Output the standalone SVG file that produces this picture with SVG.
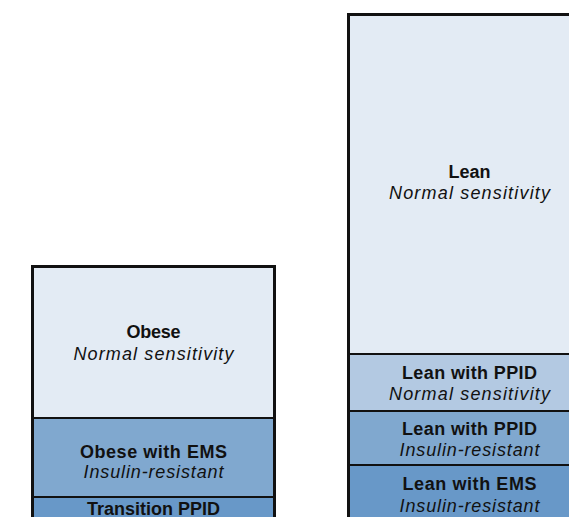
<svg xmlns="http://www.w3.org/2000/svg" width="569" height="517" viewBox="0 0 569 517">
<style>
.b{font-family:"Liberation Sans",Arial,sans-serif;font-size:18px;font-weight:bold;text-anchor:middle;fill:#111}
.i{font-family:"Liberation Sans",Arial,sans-serif;font-size:18px;font-style:italic;text-anchor:middle;fill:#111}
.c1{fill:#e3ebf4}
.c2{fill:#b3c9e2}
.c3{fill:#80a8cf}
.c4{fill:#6898c8}
.div{stroke:#111;stroke-width:2;fill:none}
.out{stroke:#111;stroke-width:3;fill:none}
</style>
<rect width="569" height="517" fill="#fff"/>
<g id="obese">
<rect class="c1" x="32" y="266" width="243" height="152"/>
<text class="b" x="153.5" y="338" textLength="54" lengthAdjust="spacing">Obese</text>
<text class="i" x="153.5" y="360" textLength="160" lengthAdjust="spacing">Normal sensitivity</text>
</g>
<g id="obese-ems">
<rect class="c3" x="32" y="418" width="243" height="79"/>
<text class="b" x="153.5" y="458" textLength="147" lengthAdjust="spacing">Obese with EMS</text>
<text class="i" x="153.5" y="478" textLength="140" lengthAdjust="spacing">Insulin-resistant</text>
</g>
<g id="transition-ppid">
<rect class="c4" x="32" y="497" width="243" height="30"/>
<text class="b" x="153.5" y="515" textLength="133" lengthAdjust="spacing">Transition PPID</text>
</g>
<g id="lean">
<rect class="c1" x="348" y="14" width="243" height="340"/>
<text class="b" x="469.5" y="178" textLength="42" lengthAdjust="spacing">Lean</text>
<text class="i" x="469.5" y="199" textLength="161" lengthAdjust="spacing">Normal sensitivity</text>
</g>
<g id="lean-ppid-normal">
<rect class="c2" x="348" y="354" width="243" height="57"/>
<text class="b" x="469.5" y="379" textLength="135" lengthAdjust="spacing">Lean with PPID</text>
<text class="i" x="469.5" y="400" textLength="161" lengthAdjust="spacing">Normal sensitivity</text>
</g>
<g id="lean-ppid-ir">
<rect class="c3" x="348" y="411" width="243" height="54"/>
<text class="b" x="469.5" y="435" textLength="135" lengthAdjust="spacing">Lean with PPID</text>
<text class="i" x="469.5" y="456" textLength="140" lengthAdjust="spacing">Insulin-resistant</text>
</g>
<g id="lean-ems">
<rect class="c4" x="348" y="465" width="243" height="62"/>
<text class="b" x="469.5" y="490" textLength="134" lengthAdjust="spacing">Lean with EMS</text>
<text class="i" x="469.5" y="512" textLength="140" lengthAdjust="spacing">Insulin-resistant</text>
</g>
<g id="dividers">
<line class="div" x1="32" y1="418" x2="275" y2="418"/>
<line class="div" x1="32" y1="497" x2="275" y2="497"/>
<line class="div" x1="348" y1="354" x2="591" y2="354"/>
<line class="div" x1="348" y1="411" x2="591" y2="411"/>
<line class="div" x1="348" y1="465" x2="591" y2="465"/>
<rect class="out" x="32.5" y="266.5" width="242" height="270"/>
<rect class="out" x="348.5" y="14.5" width="242" height="520"/>
</g>
</svg>
